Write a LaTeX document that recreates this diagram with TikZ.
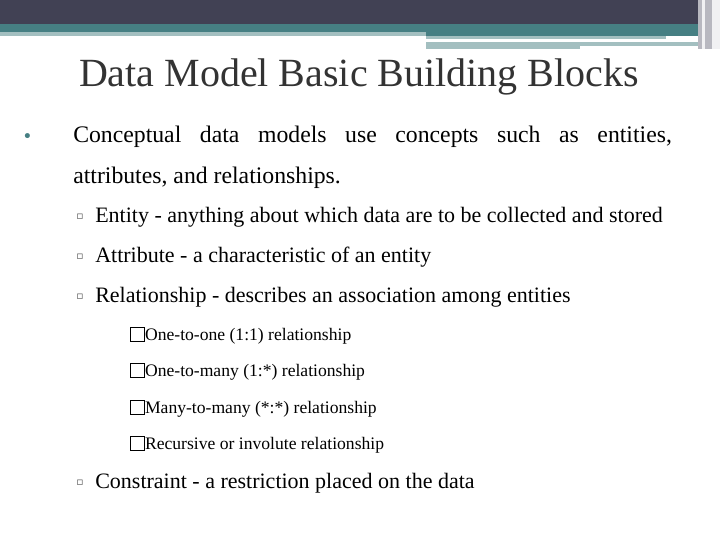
\documentclass[tikz,border=0pt]{standalone}
\usepackage{fontspec}
\setmainfont{Liberation Serif}
\newfontfamily\symfont{DejaVu Sans}
\definecolor{bandDark}{HTML}{414154}
\definecolor{bandTeal}{HTML}{467F83}
\definecolor{bandLight}{HTML}{A3BFC0}
\definecolor{stripeGray}{HTML}{B8B8C0}
\newcommand{\boxmark}{\raisebox{-0.05em}{\fbox{\rule{0pt}{0.75em}\hspace{0.75em}}}}
\tikzset{
  title/.style={anchor=base, font=\fontsize{30}{36}\selectfont, text=black!80},
  lvlone/.style={anchor=base west, inner sep=0pt, font=\fontsize{17.8}{21}\selectfont},
  lvltwo/.style={anchor=base west, inner sep=0pt, font=\fontsize{16.5}{20}\selectfont},
  lvlthree/.style={anchor=base west, inner sep=0pt, font=\fontsize{13.2}{16}\selectfont},
  subdot/.style={anchor=base west, inner sep=0pt, font=\symfont\fontsize{8}{9}\selectfont, text=black!70},
}
\begin{document}
\begin{tikzpicture}[x=0.75pt, y=-0.75pt]
    \useasboundingbox (0,0) rectangle (720,540);
    % Header bands
    \fill[bandDark] (0,0) rectangle (720,24);
    \fill[bandTeal] (0,24) rectangle (720,32);
    \fill[bandTeal] (426,32) rectangle (720,36);
    \fill[bandLight] (0,32) rectangle (426,36);
    \fill[bandLight] (426,36) rectangle (666,39);
    \fill[bandLight] (426,42) rectangle (580,49);
    \fill[bandLight] (580,42) rectangle (707,46);
    \fill[stripeGray] (698,0) rectangle (720,49);
    \fill[white!80!stripeGray] (702,0) rectangle (705,49);
    \fill[white!80!stripeGray] (712,0) rectangle (720,49);
    % Title
    \node[title] (Title) at (359,86) {Data Model Basic Building Blocks};
    % First level
    \node[lvlone, text=bandTeal] (Dot-1) at (22,142) {\symfont\fontsize{13}{14}\selectfont •};
    \node[lvlone] (Line-1) at (73,142) {\makebox[449pt][s]{Conceptual data models use concepts such as entities,}};
    \node[lvlone] (Line-2) at (73,183) {attributes, and relationships.};
    % Second level
    \foreach \i/\y/\t in {1/222/{Entity - anything about which data are to be collected and stored},
                          2/262/{Attribute - a characteristic of an entity},
                          3/302/{Relationship - describes an association among entities},
                          4/488/{Constraint - a restriction placed on the data}} {
        \node[subdot] (Sub-Dot-\i) at (76,\y-3) {▫};
        \node[lvltwo] (Sub-\i) at (95,\y) {\t};
    }
    % Third level
    \foreach \i/\y/\t in {1/340/{One-to-one (1:1) relationship},
                          2/376/{One-to-many (1:*) relationship},
                          3/413/{Many-to-many (*:*) relationship},
                          4/449/{Recursive or involute relationship}} {
        \node[lvlthree] (Rel-\i) at (130,\y) {\setlength{\fboxsep}{0pt}\setlength{\fboxrule}{0.6pt}\boxmark\t};
    }
\end{tikzpicture}
\end{document}
